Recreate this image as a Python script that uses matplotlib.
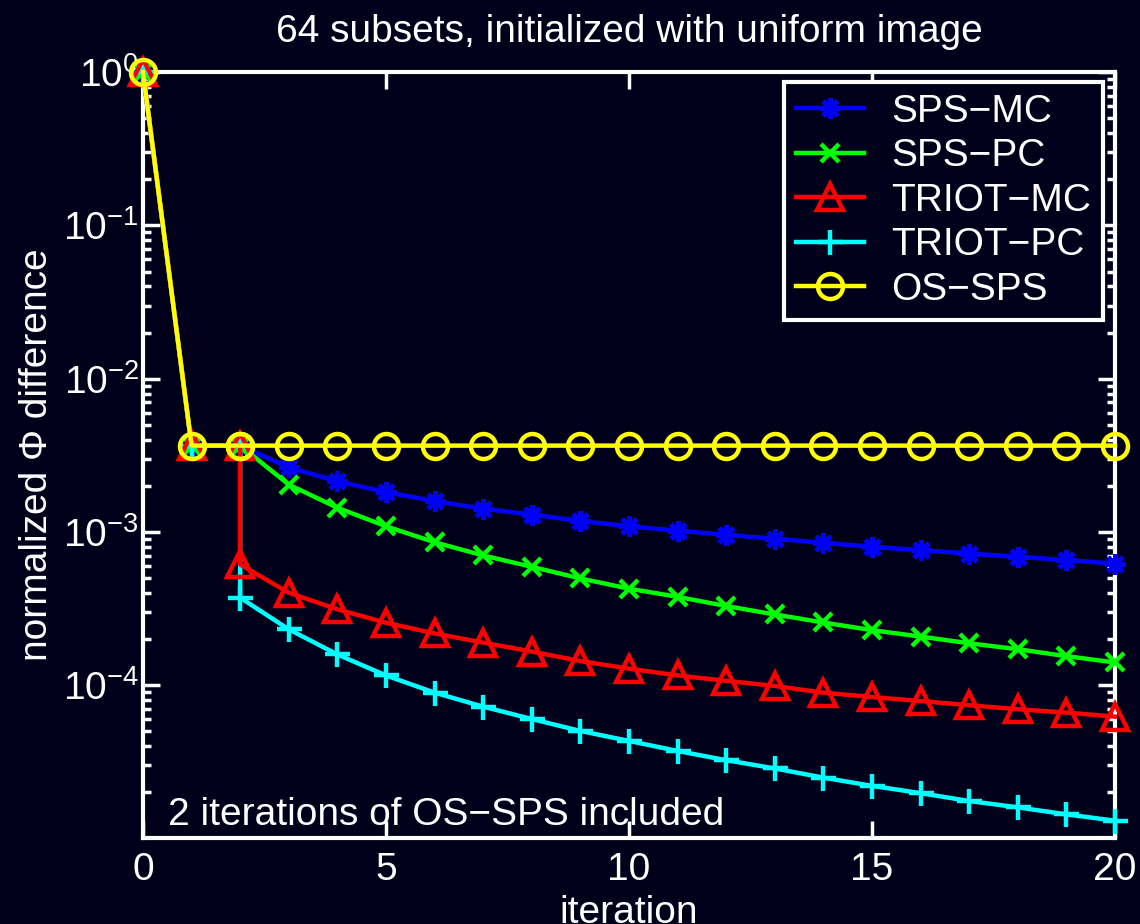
import matplotlib.pyplot as plt
import matplotlib.ticker as mticker

plt.rcParams['font.family'] = ['Liberation Sans', 'DejaVu Sans']
plt.rcParams['mathtext.fontset'] = 'custom'
plt.rcParams['mathtext.rm'] = 'Liberation Sans'
plt.rcParams['mathtext.it'] = 'Liberation Sans:italic'
plt.rcParams['mathtext.bf'] = 'Liberation Sans:bold'

# first iterations are plain OS-SPS, shared by every curve
start_iters = [0, 1, 2]
start_vals = [1.0, 3.66e-3, 3.66e-3]

# values from iteration 2 onward (after the switch)
iters = list(range(2, 21))
sps_mc = [3.66e-3, 2.64e-3, 2.14e-3, 1.82e-3, 1.59e-3, 1.42e-3, 1.30e-3, 1.18e-3,
          1.09e-3, 1.02e-3, 9.59e-4, 9.03e-4, 8.51e-4, 8.01e-4, 7.61e-4, 7.24e-4,
          6.89e-4, 6.55e-4, 6.23e-4]
sps_pc = [3.66e-3, 2.04e-3, 1.44e-3, 1.09e-3, 8.58e-4, 7.03e-4, 5.93e-4, 4.98e-4,
          4.27e-4, 3.78e-4, 3.29e-4, 2.90e-4, 2.57e-4, 2.29e-4, 2.08e-4, 1.88e-4,
          1.72e-4, 1.55e-4, 1.41e-4]
triot_mc = [6.14e-4, 4.02e-4, 3.13e-4, 2.56e-4, 2.18e-4, 1.90e-4, 1.66e-4, 1.44e-4,
            1.285e-4, 1.16e-4, 1.07e-4, 9.9e-5, 8.96e-5, 8.39e-5, 7.9e-5, 7.41e-5,
            6.98e-5, 6.64e-5, 6.25e-5]
triot_pc = [3.73e-4, 2.32e-4, 1.59e-4, 1.16e-4, 8.96e-5, 7.26e-5, 6.03e-5, 5.04e-5,
            4.34e-5, 3.73e-5, 3.25e-5, 2.87e-5, 2.50e-5, 2.21e-5, 1.98e-5, 1.76e-5,
            1.60e-5, 1.44e-5, 1.31e-5]
os_sps = [3.66e-3] * 19

bg = '#00001a'
fs = 28
fig = plt.figure(figsize=(11.4, 9.24), dpi=100, facecolor=bg)
ax = fig.add_axes([0.1254, 0.0931, 0.8526, 0.8289], facecolor=bg)

styles = [
    ('SPS-MC', sps_mc, '#0000ff', (8, 2, 0), 15, 3),
    ('SPS-PC', sps_pc, '#00ff00', 'x', 13, 3),
    ('TRIOT-MC', triot_mc, '#ff0000', '^', 19, 5),
    ('TRIOT-PC', triot_pc, '#00ffff', '+', 18, 4),
    ('OS-SPS', os_sps, '#ffff00', 'o', 18, 6),
]
for name, vals, col, mk, ms, z in styles:
    xs = start_iters + iters
    ys = start_vals + vals
    ax.plot(xs, ys, color=col, lw=3.2, marker=mk, ms=ms, mew=3.2,
            mfc='none', mec=col, label=name, clip_on=False, zorder=z)

ax.set_yscale('log')
ax.set_xlim(0, 20)
ax.set_ylim(1.01e-5, 1.0)
ax.set_xticks([0, 5, 10, 15, 20])
ax.yaxis.set_major_locator(mticker.LogLocator(base=10, numticks=10))
ax.yaxis.set_minor_locator(mticker.LogLocator(base=10, subs=range(2, 10), numticks=10))
ax.yaxis.set_minor_formatter(mticker.NullFormatter())

for s in ax.spines.values():
    s.set_color('white')
    s.set_linewidth(3)
ax.tick_params(which='both', direction='in', colors='white', top=True, right=True,
               labelsize=fs, width=2.5)
ax.tick_params(which='major', length=12)
ax.tick_params(which='minor', length=6)
ax.tick_params(axis='x', which='major', pad=10)
ax.tick_params(axis='y', which='major', pad=3)

ax.set_xlabel('iteration', color='white', fontsize=fs, labelpad=5)
ax.set_ylabel('normalized \u03a6 difference', color='white', fontsize=fs, labelpad=6)
ax.set_title('64 subsets, initialized with uniform image', color='white',
             fontsize=fs, pad=22)

ax.text(0.026, 0.006, '2 iterations of OS\u2212SPS included', transform=ax.transAxes,
        color='white', fontsize=fs, ha='left', va='bottom')

leg = ax.legend(loc='upper right', fontsize=fs, frameon=True, fancybox=False,
                facecolor=bg, edgecolor='white', framealpha=1,
                handlelength=1.75, handletextpad=0.7, labelspacing=0.22,
                borderpad=0.3, borderaxespad=0.0,
                bbox_to_anchor=(0.9877, 0.987))
leg.get_frame().set_linewidth(3)
for t, (name, *_rest) in zip(leg.get_texts(), styles):
    t.set_color('white')
    t.set_text(name.replace('-', '\u2212'))

fig.savefig('out.png', dpi=100, facecolor=bg)
